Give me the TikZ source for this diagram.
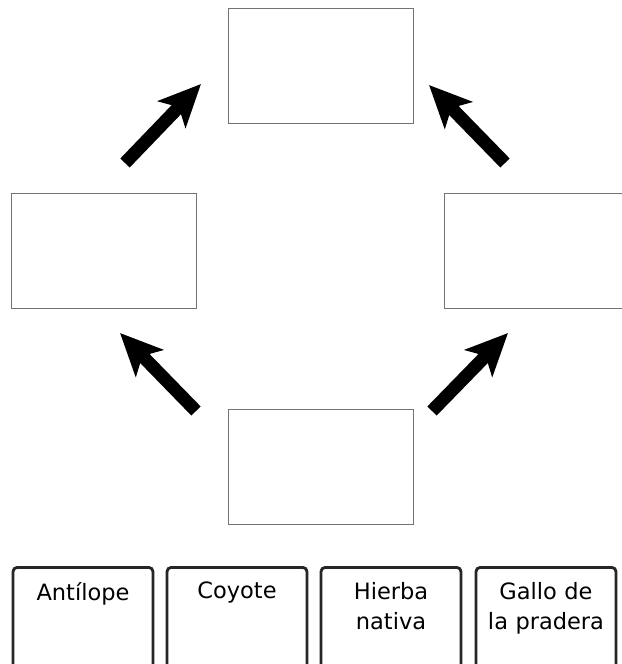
\documentclass[tikz,border=0pt]{standalone}
\usepackage{fontspec}
\setsansfont{DejaVu Sans}
\usetikzlibrary{arrows.meta}

\tikzset{
  casilla/.style={draw=black!55, line width=0.7pt, minimum width=4.6cm, minimum height=2.85cm},
  tarjeta/.style={draw=black!85, line width=2pt, rounded corners=3pt, minimum width=3.5cm, minimum height=3.2cm, anchor=north},
  rotulo/.style={font=\sffamily\fontsize{16}{21.3}\selectfont, text width=3.4cm, align=center, anchor=north, inner sep=0pt},
  flecha/.style={line width=0.325cm, -{Stealth[length=1.05cm, width=0.95cm, inset=0.25cm]}}
}

\begin{document}
\begin{tikzpicture}[x=0.025cm,y=-0.025cm]
\useasboundingbox (0,0) rectangle (622,664);
\clip (0,0) rectangle (622,664);

% casillas vacias de la red
\node[casilla] (arriba) at (321,66) {};
\node[casilla] (izq) at (104,251) {};
\node[casilla] (der) at (537,251) {};
\node[casilla] (abajo) at (321,467) {};

% extremos de las flechas
\coordinate (a1) at (125,163); \coordinate (b1) at (201,84);
\coordinate (a2) at (505,163); \coordinate (b2) at (429,85);
\coordinate (a3) at (196,411); \coordinate (b3) at (120,333);
\coordinate (a4) at (432,411); \coordinate (b4) at (508,333);

\begin{scope}[flecha]
\draw (a1) -- (b1);
\draw (a2) -- (b2);
\draw (a3) -- (b3);
\draw (a4) -- (b4);
\end{scope}

% tarjetas
\node[tarjeta] (antilope) at (83,566) {};
\node[tarjeta] (coyote) at (237,566) {};
\node[tarjeta] (hierba) at (391,566) {};
\node[tarjeta] (gallo) at (546,566) {};

\node[rotulo] (t1) at ([yshift=-0.4cm]antilope.north) {Antílope};
\node[rotulo] (t2) at ([yshift=-0.4cm]coyote.north) {Coyote};
\node[rotulo] (t3) at ([yshift=-0.4cm]hierba.north) {Hierba\\nativa};
\node[rotulo] (t4) at ([yshift=-0.4cm]gallo.north) {Gallo de\\la pradera};
\end{tikzpicture}
\end{document}
